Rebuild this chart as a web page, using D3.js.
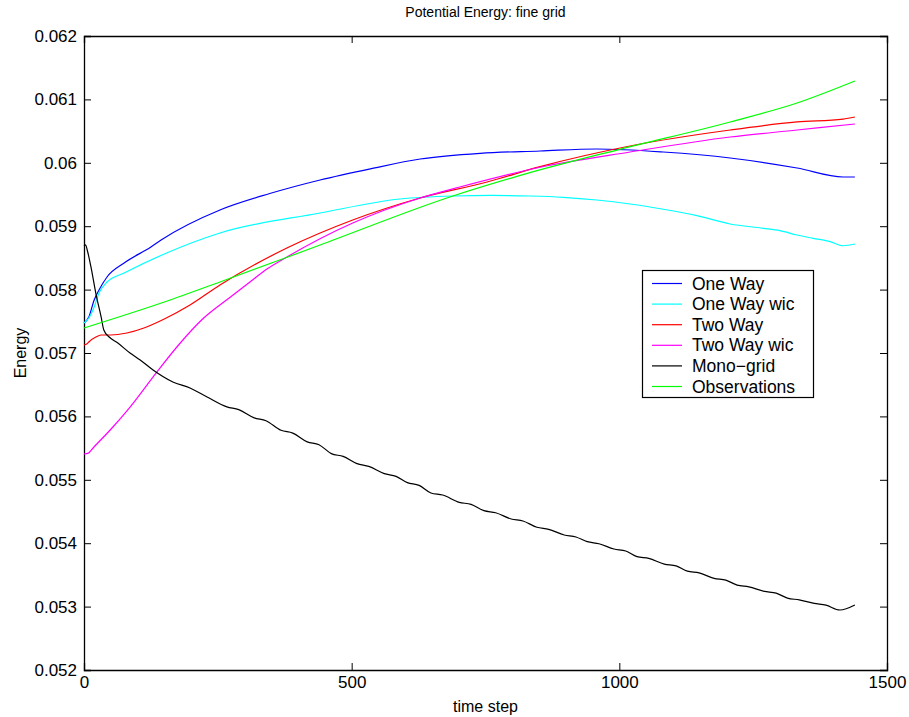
<!DOCTYPE html>
<html><head><meta charset="utf-8">
<script src="https://cdn.jsdelivr.net/npm/d3@7"></script>
<style>
body{margin:0;background:#fff;}
text{font-family:"Liberation Sans",Arial,Helvetica,sans-serif;}
</style></head>
<body><svg id="chart" width="909" height="717"></svg>
<script>
const title = "Potential Energy: fine grid";
const xLabel = "time step";
const yLabel = "Energy";
const xTicks = [0, 500, 1000, 1500];
const xTickLabels = ["0", "500", "1000", "1500"];
const yTicks = [0.052,0.053,0.054,0.055,0.056,0.057,0.058,0.059,0.060,0.061,0.062];
const yTickLabels = ["0.052","0.053","0.054","0.055","0.056","0.057","0.058","0.059","0.06","0.061","0.062"];
const seriesNames = ["One Way","One Way wic","Two Way","Two Way wic","Mono\u2212grid","Observations"];
const seriesColors = ["#0000ff","#00ffff","#ff0000","#ff00ff","#000000","#00ff00"];

const oneWay = [[0,0.057473],[9,0.057568],[19,0.057836],[28,0.057994],[43,0.058199],[75,0.058420],[125,0.058672],[144,0.058782],[254,0.059256],[347,0.059515],[441,0.059729],[535,0.059905],[628,0.060060],[740,0.060150],[852,0.060186],[958,0.060218],[1082,0.060170],[1207,0.060076],[1332,0.059918],[1418,0.059776],[1440,0.059776]];
const oneWayWic = [[0,0.057473],[9,0.057552],[19,0.057726],[28,0.057946],[43,0.058120],[75,0.058262],[150,0.058562],[254,0.058893],[441,0.059208],[590,0.059429],[689,0.059476],[760,0.059485],[833,0.059476],[895,0.059456],[958,0.059413],[1020,0.059350],[1082,0.059267],[1145,0.059166],[1207,0.059035],[1269,0.058967],[1300,0.058929],[1332,0.058861],[1362,0.058809],[1394,0.058756],[1418,0.058692],[1440,0.058719]];
const twoWay = [[0,0.057126],[5,0.057140],[9,0.057174],[22,0.057252],[32,0.057284],[50,0.057284],[80,0.057315],[112,0.057394],[150,0.057536],[198,0.057757],[254,0.058073],[379,0.058656],[502,0.059098],[628,0.059445],[753,0.059697],[852,0.059940],[1020,0.060265],[1207,0.060517],[1332,0.060644],[1418,0.060690],[1440,0.060722]];
const twoWayWic = [[0,0.055407],[8,0.055420],[17,0.055502],[54,0.055833],[86,0.056148],[136,0.056700],[179,0.057150],[222,0.057540],[273,0.057880],[310,0.058120],[341,0.058320],[379,0.058514],[502,0.059050],[628,0.059445],[702,0.059618],[852,0.059930],[1020,0.060170],[1207,0.060407],[1332,0.060517],[1440,0.060612]];
const monoGrid = [[0,0.058690],[3,0.058705],[6,0.058625],[13,0.058357],[22,0.057946],[32,0.057568],[37,0.057363],[47,0.057252],[62,0.057165],[86,0.057000],[105,0.056890],[129,0.056732],[166,0.056543],[198,0.056448],[230,0.056306],
[267,0.056150],[289,0.056106],[318,0.055976],[340,0.055932],[368,0.055781],[390,0.055737],[417,0.055598],[439,0.055554],[462,0.055413],[484,0.055369],[510,0.055255],[532,0.055211],[561,0.055098],[583,0.055054],[604,0.054956],[626,0.054912],
[648,0.054792],[670,0.054760],[701,0.054645],[723,0.054613],[747,0.054513],[769,0.054481],[798,0.054382],[820,0.054350],[846,0.054251],[868,0.054219],[897,0.054130],[919,0.054098],[940,0.054024],[962,0.053992],[990,0.053909],[1012,0.053877],
[1033,0.053789],[1055,0.053761],[1084,0.053670],[1106,0.053642],[1127,0.053560],[1149,0.053532],[1177,0.053445],[1199,0.053417],[1220,0.053339],[1242,0.053311],[1271,0.053240],[1293,0.053212],[1314,0.053134],[1336,0.053106],[1364,0.053050],[1386,0.053022],[1412,0.052946],[1440,0.053025]];
const observations = [[0,0.057394],[150,0.057804],[254,0.058120],[441,0.058703],[689,0.059476],[833,0.059844],[1001,0.060213],[1207,0.060644],[1332,0.060943],[1440,0.061290]];

const seriesData = [oneWay, oneWayWic, twoWay, twoWayWic, monoGrid, observations];

const svg = d3.select("#chart");
const L = 84, R = 887, T = 36, B = 670;
const x = d3.scaleLinear().domain([0,1500]).range([L,R]);
const y = d3.scaleLinear().domain([0.052,0.062]).range([B,T]);

const fs = "17px";
const gL = svg.append("g").attr("transform",`translate(${L},0)`)
  .call(d3.axisLeft(y).tickValues(yTicks).tickFormat((d,i)=>yTickLabels[i]).tickSize(-7).tickPadding(7));
const gR = svg.append("g").attr("transform",`translate(${R},0)`)
  .call(d3.axisRight(y).tickValues(yTicks).tickFormat("").tickSize(-7));
const gB = svg.append("g").attr("transform",`translate(0,${B})`)
  .call(d3.axisBottom(x).tickValues(xTicks).tickFormat((d,i)=>xTickLabels[i]).tickSize(-7).tickPadding(6));
const gT = svg.append("g").attr("transform",`translate(0,${T})`)
  .call(d3.axisTop(x).tickValues(xTicks).tickFormat("").tickSize(-7));
[gL,gR,gB,gT].forEach(g=>{
  g.selectAll("path.domain").attr("stroke","#000").attr("stroke-width",1.3);
  g.selectAll(".tick line").attr("stroke","#000").attr("stroke-width",1);
  g.selectAll(".tick text").attr("fill","#000").style("font-size",fs).style("font-family","Liberation Sans, Arial, sans-serif");
});

const line = d3.line().x(d=>x(d[0])).y(d=>y(d[1])).curve(d3.curveMonotoneX);
seriesData.forEach((s,i)=>{
  svg.append("path").datum(s).attr("d",line).attr("fill","none")
    .attr("stroke",seriesColors[i]).attr("stroke-width",1.2);
});

svg.append("text").attr("x",(L+R)/2).attr("y",17).attr("text-anchor","middle")
  .style("font-size","14px").text(title);
svg.append("text").attr("x",(L+R)/2).attr("y",712).attr("text-anchor","middle")
  .style("font-size","16px").text(xLabel);
svg.append("text").attr("transform",`translate(26,${(T+B)/2}) rotate(-90)`).attr("text-anchor","middle")
  .style("font-size","16px").text(yLabel);

const lg = svg.append("g");
lg.append("rect").attr("x",642.5).attr("y",270.5).attr("width",171).attr("height",127)
  .attr("fill","#fff").attr("stroke","#000").attr("stroke-width",1.2);
seriesNames.forEach((n,i)=>{
  const cy = 283.5 + i*20.6;
  lg.append("line").attr("x1",652).attr("x2",682).attr("y1",cy).attr("y2",cy)
    .attr("stroke",seriesColors[i]).attr("stroke-width",1.2);
  lg.append("text").attr("x",692).attr("y",cy+6).style("font-size","17.5px").text(n);
});
</script></body></html>
